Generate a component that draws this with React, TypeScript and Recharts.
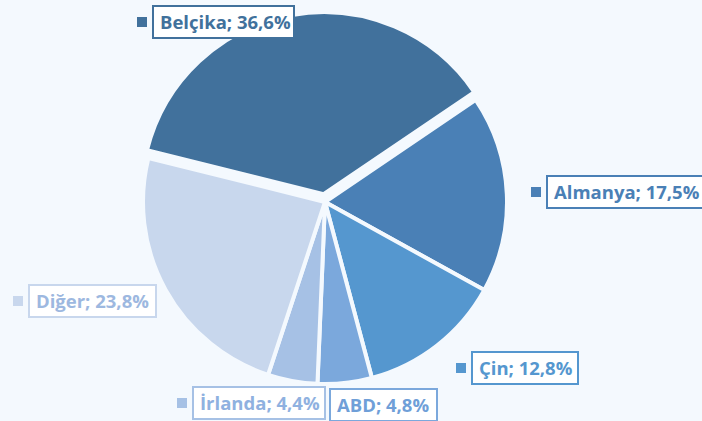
import { PieChart, Pie, Cell, Sector } from "recharts";

const NAMES = ["Belçika", "Almanya", "Çin", "ABD", "İrlanda", "Diğer"];
const SHARES = [36.6, 17.5, 12.8, 4.8, 4.4, 23.8];
const COLORS = ["#41719c", "#4a80b6", "#5597cf", "#7ba8dc", "#a6c1e5", "#c8d7ed"];
const TEXT_COLORS = ["#41719c", "#4a80b6", "#5597cf", "#6f9fd8", "#8fb1e0", "#9db8e0"];

// label box placement (Excel placed these by hand)
const LABEL_BOX = [
  { x: 153, y: 6, w: 141, marker: true },
  { x: 547, y: 176, w: 160, marker: true },
  { x: 472, y: 352, w: 106, marker: true },
  { x: 330, y: 389, w: 107, marker: false },
  { x: 193, y: 387, w: 132, marker: true },
  { x: 29, y: 285, w: 127, marker: true },
];

const BG = "#f4f9fe";
const EXPLODE = 8;

const data = NAMES.map((name, i) => ({ name, value: SHARES[i] }));

const fmt = (v: number) => v.toFixed(1).replace(".", ",") + "%";

function renderLabel(props: any) {
  const i = props.index;
  const box = LABEL_BOX[i];
  const h = 32;
  return (
    <g key={"lbl" + i}>
      {box.marker && (
        <rect x={box.x - 16} y={box.y + h / 2 - 5} width={10} height={10} fill={COLORS[i]} />
      )}
      <rect x={box.x} y={box.y} width={box.w} height={h} fill="#ffffff" stroke={COLORS[i]} strokeWidth={2} />
      <text
        x={box.x + 7}
        y={box.y + 23}
        fill={TEXT_COLORS[i]}
        fontSize={18.5}
        fontWeight="bold"
        fontFamily="'Open Sans', sans-serif"
      >
        {NAMES[i] + "; " + fmt(SHARES[i])}
      </text>
    </g>
  );
}

function renderShape(props: any) {
  if (props.index === 0) {
    const rad = (props.midAngle * Math.PI) / 180;
    return (
      <Sector
        {...props}
        cx={props.cx + EXPLODE * Math.cos(rad)}
        cy={props.cy - EXPLODE * Math.sin(rad)}
      />
    );
  }
  return <Sector {...props} />;
}

export default function App() {
  return (
    <div style={{ position: "fixed", left: 0, top: 0, width: 702, height: 421, background: BG }}>
      <PieChart width={702} height={421} margin={{ top: 0, right: 0, bottom: 0, left: 0 }}>
        <Pie
          data={data}
          dataKey="value"
          nameKey="name"
          cx={325}
          cy={202}
          outerRadius={182}
          startAngle={166}
          endAngle={-194}
          stroke={BG}
          strokeWidth={4}
          label={renderLabel}
          labelLine={false}
          shape={renderShape}
          isAnimationActive={false}
        >
          {data.map((d, i) => (
            <Cell key={d.name} fill={COLORS[i]} />
          ))}
        </Pie>
      </PieChart>
    </div>
  );
}
